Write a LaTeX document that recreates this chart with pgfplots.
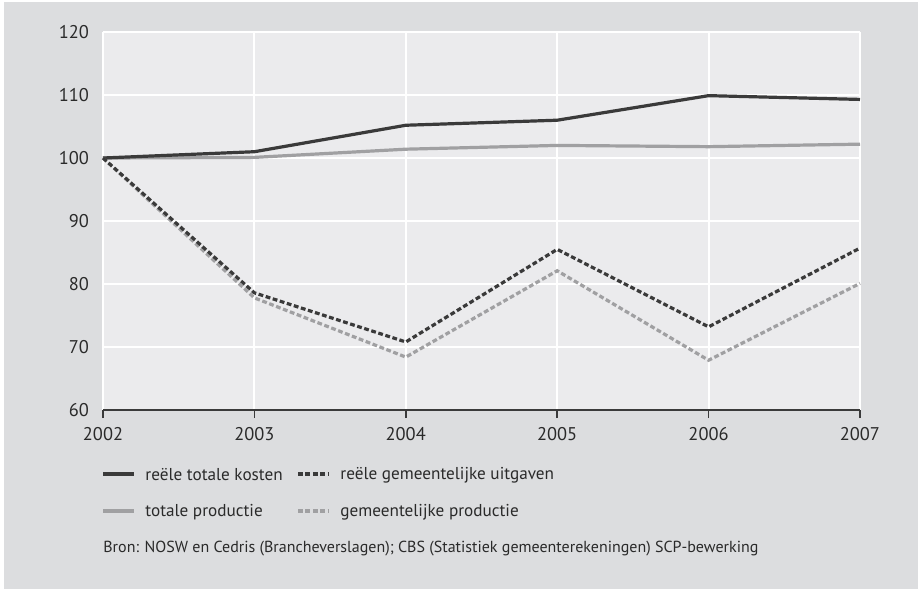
\documentclass[border=0pt]{standalone}
\usepackage{pgfplots}
\pgfplotsset{compat=1.18}
\usepackage{fontspec}
\setmainfont{PT Sans}
\definecolor{outerbg}{HTML}{DCDDDF}
\definecolor{plotbg}{HTML}{EBEBED}
\definecolor{darkline}{HTML}{3A3A3A}
\definecolor{lightline}{HTML}{A0A0A2}
\definecolor{txt}{HTML}{2A2A2A}
\begin{document}
\fontsize{8.6}{10}\selectfont
\begin{tikzpicture}[x=0.5pt,y=-0.5pt]
\useasboundingbox (0,0) rectangle (919,589);
\fill[white] (0,0) rectangle (919,589);
\fill[outerbg] (4,2) rectangle (918,589);
\coordinate (A) at (103,410);
\begin{axis}[
  at={(A)}, anchor=south west,
  scale only axis, width=378.5pt, height=189pt,
  xmin=2002, xmax=2007, ymin=60, ymax=120,
  xtick={2002,...,2007}, ytick={60,70,...,120},
  xticklabel style={/pgf/number format/1000 sep={}},
  /pgf/number format/assume math mode=true,
  axis background/.style={fill=plotbg},
  grid=major, major grid style={white, line width=1pt},
  axis x line*=bottom, axis y line*=left,
  y axis line style={draw=none},
  x axis line style={darkline, line width=0.8pt, -},
  ytick style={draw=none},
  xtick style={darkline, line width=0.8pt},
  tick align=outside, major tick length=4pt,
  tick label style={font=\fontsize{9.2}{10}\selectfont, text=txt},
  yticklabel style={xshift=0pt},
  xticklabel style={yshift=-1.5pt},
  clip=false,
]
\addplot[lightline, line width=1.6pt] coordinates {(2002,100) (2003,100.1) (2004,101.4) (2005,102.0) (2006,101.8) (2007,102.2)};
\addplot[darkline, line width=1.6pt] coordinates {(2002,100) (2003,101.0) (2004,105.2) (2005,106.0) (2006,109.9) (2007,109.3)};
\addplot[lightline, line width=1.6pt, dash pattern=on 2.4pt off 1.3pt] coordinates {(2002,100) (2003,77.8) (2004,68.4) (2005,82.1) (2006,67.9) (2007,80.1)};
\addplot[darkline, line width=1.6pt, dash pattern=on 2.4pt off 1.3pt] coordinates {(2002,100) (2003,78.6) (2004,70.8) (2005,85.5) (2006,73.2) (2007,85.7)};
\end{axis}
% legend
\draw[darkline, line width=1.6pt] (103,474) -- (134,474);
\node[anchor=west, text=txt, inner sep=0pt] at (145,475) {reële totale kosten};
\draw[darkline, line width=1.6pt, dash pattern=on 2.4pt off 1.3pt] (298,474) -- (329,474);
\node[anchor=west, text=txt, inner sep=0pt] at (340,475) {reële gemeentelijke uitgaven};
\draw[lightline, line width=1.6pt] (103,511) -- (134,511);
\node[anchor=west, text=txt, inner sep=0pt] at (145,512) {totale productie};
\draw[lightline, line width=1.6pt, dash pattern=on 2.4pt off 1.3pt] (298,511) -- (329,511);
\node[anchor=west, text=txt, inner sep=0pt] at (340,512) {gemeentelijke productie};
\node[anchor=west, text=txt, inner sep=0pt, font=\fontsize{8}{10}\selectfont] at (103,549) {Bron: NOSW en Cedris (Brancheverslagen); CBS (Statistiek gemeenterekeningen) SCP-bewerking};
\end{tikzpicture}
\end{document}
